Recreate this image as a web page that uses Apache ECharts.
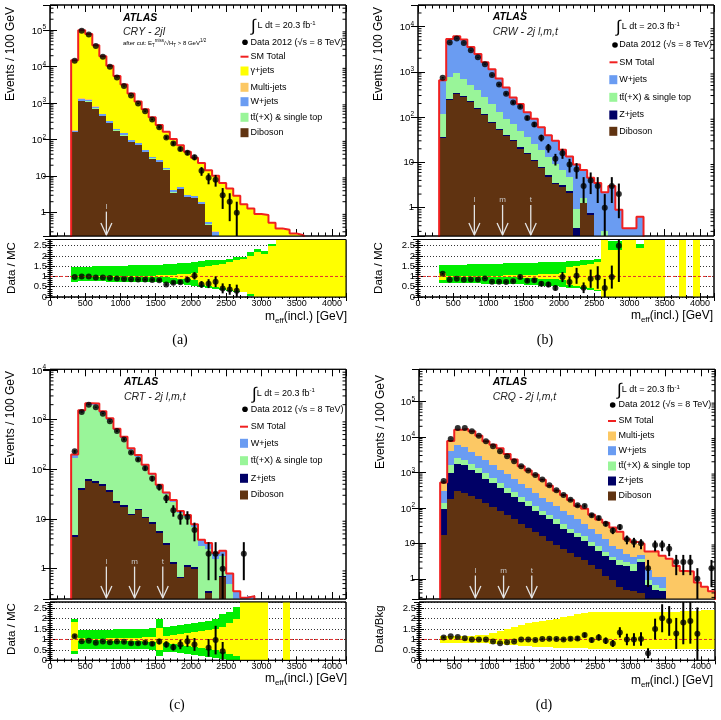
<!DOCTYPE html>
<html>
<head>
<meta charset="utf-8">
<script src="https://cdn.jsdelivr.net/npm/echarts@6/dist/echarts.min.js"></script>
<style>
html,body{margin:0;padding:0;background:#fff;}
#chart{width:721px;height:720px;}
</style>
</head>
<body>
<div id="chart"></div>
<script>
// ================= DATA =================
const EDGES = [300,400,500,600,700,800,900,1000,1100,1200,1300,1400,1500,1600,1700,1800,1900,2000,2100,2200,2300,2400,2500,2600,2700,2800,2900,3000,3100,3200,3300,3400,3500,3600,3700,3800,3900,4000,4100,4200];
const ARROW_X = [800,1200,1600];
const ARROW_LAB = ['l','m','t'];

// ---- (a) CRgamma - 2jl ----
const A_gamma = [14820,98650,77720,37690,18690,10280,5350,3100,1732,1038,628,381,227,148,101,65,43.9,29.1,21,13.9,9.9,6.5,4.6,2.9,1.65,1.25,0.82,0.77,0.48,0.37,0.34,0.27,0.24,0.2,0.15,0.12,0.1,0.08,0.06];
const A_multijet = [5,40,30,15,7,4,2,1.3,0.7,0.4,0.25,0.15,0.1,0.06,0.04,0.03,0.02,0.02,0.01,0.01,0.01,0.01,0.01,0.01,0.05,0.05,0.1,0.1,0.05,0,0,0,0,0,0,0,0,0,0];
const A_wjets = [15,130,125,80,50,32,20,15,10,8,5,3.5,2.8,1.7,0.5,0.5,0.3,0.3,0.2,0.08,0.1,0.05,0,0,0,0,0,0,0,0,0,0,0,0,0,0,0,0,0];
const A_ttbar = [3,30,28,18,11,7,4.5,3.3,2.2,1.8,1.1,0.7,0.6,0.35,0.1,0.1,0.07,0.06,0.04,0.02,0,0,0,0,0,0,0,0,0,0,0,0,0,0,0,0,0,0,0];
const A_diboson = [158,1150,1100,700,440,280,175,130,85,72,46,30,24,15,3.5,4.4,2.7,2.5,1.7,0.46,0.2,0,0,0,0,0,0,0,0,0,0,0,0,0,0,0,0,0,0];
const A_data = [14500,96000,76000,37000,18600,10000,5040,2940,1620,985,605,360,220,115,79,56,44,33,14,9,8,3,2,1,null,null,null,null,null,null,null,null,null,null,null,null,null,null,null];
const A_ratio = [0.98,1.0,1.0,0.95,0.95,0.92,0.9,0.88,0.86,0.85,0.85,0.83,0.82,0.61,0.69,0.72,0.84,1.03,0.61,0.65,0.74,0.42,0.37,0.3,null,null,null,null,null,null,null,null,null,null,null,null,null,null,null];
const A_totLo = [0.75,0.76,0.76,0.76,0.76,0.75,0.75,0.75,0.74,0.74,0.73,0.72,0.72,0.66,0.64,0.62,0.6,0.56,0.48,0.42,0.38,0.32,0.28,0.25,0.22,0.05,0,0,0,0,0,0,0,0,0,0,0,0,0];
const A_totHi = [1.45,1.47,1.48,1.49,1.5,1.51,1.52,1.53,1.54,1.55,1.56,1.57,1.58,1.6,1.62,1.64,1.67,1.72,1.76,1.78,1.8,1.82,1.85,1.97,1.97,2.18,2.34,2.23,2.6,3,3,3,3,3,3,3,3,3,3];
const A_statLo = [0.97,0.98,0.98,0.98,0.98,0.98,0.97,0.97,0.97,0.97,0.96,0.96,0.95,0.95,0.93,0.9,0.88,0.85,0.6,0.55,0.5,0.42,0.32,0.28,0.25,0.15,0,0,0,0,0,0,0,0,0,0,0,0,0];
const A_statHi = [1.03,1.02,1.02,1.02,1.02,1.02,1.03,1.03,1.03,1.03,1.04,1.04,1.05,1.05,1.07,1.1,1.12,1.15,1.45,1.5,1.55,1.6,1.7,1.8,1.85,2.0,2.2,2.1,2.5,3,3,3,3,3,3,3,3,3,3];

// ---- (b) CRW - 2j l,m,t ----
const B_wjets = [535,4550,5170,4520,3020,2080,1360,950,580,360,203,147,91,66,41,27,20.8,12.2,8.7,8,5.2,3.85,3.5,1.9,3.0,0.9,0.35,0.35,0.63,0.1,0.08,0.06,0,0,0.05,0,0.04,0,0];
const B_ttbar = [83,500,610,384,280,229,163,120,75,52,39,27,21,14.5,11,7.8,5.6,3.6,2.5,0.6,0.3,0,0,0.3,0,0,0,0,0,0,0,0,0,0,0,0,0,0,0];
const B_zjets = [2.5,15,18,16,12,9,7,5,3.5,2.5,2,1.4,1,0.8,0.6,0.4,0.3,0.25,0.2,0.2,0.05,0.05,0,0,0,0,0,0,0,0,0,0,0,0,0,0,0,0,0];
const B_diboson = [34,237,320,280,218,152,110,75,51,38,29,20,15,10.7,7.4,4.8,3.3,2.9,2.1,0.15,1.25,0.7,0,0,0,0,0,0,0,0,0,0,0,0,0,0,0,0,0];
const B_data = [740,4450,5450,4370,3000,2100,1480,850,525,330,210,170,96,69,35,21,12,16,9,7,3,4,3,1,3,2,null,null,null,null,null,null,null,null,null,null,null,null,null];
const B_ratio = [1.13,0.84,0.89,0.84,0.85,0.85,0.9,0.74,0.74,0.73,0.77,0.97,0.79,0.81,0.65,0.61,0.44,0.97,0.73,1.03,0.45,0.89,0.95,0.44,0.97,2.5,null,null,null,null,null,null,null,null,null,null,null,null,null];
const B_totLo = [0.68,0.68,0.67,0.67,0.66,0.66,0.65,0.65,0.64,0.63,0.62,0.61,0.6,0.58,0.56,0.54,0.52,0.5,0.45,0.42,0.38,0.35,0.3,0,0,0,0,0,0,0,0,0,0,0,0,0,0,0,0];
const B_totHi = [1.55,1.56,1.57,1.58,1.59,1.6,1.61,1.62,1.63,1.64,1.65,1.66,1.67,1.68,1.69,1.7,1.71,1.72,1.75,1.77,1.8,1.82,1.85,3,2.75,2.75,3,3,2.6,3,3,3,0,0,3,0,3,0,0];
const B_statLo = [0.85,0.97,0.97,0.97,0.97,0.97,0.96,0.96,0.96,0.95,0.95,0.94,0.93,0.92,0.9,0.88,0.86,0.85,0.6,0.55,0.5,0.45,0.35,0,0,0,0,0,0,0,0,0,0,0,0,0,0,0,0];
const B_statHi = [1.15,1.03,1.03,1.03,1.03,1.03,1.04,1.04,1.04,1.05,1.05,1.06,1.07,1.08,1.1,1.12,1.14,1.15,1.45,1.5,1.55,1.6,1.7,3,2.3,2.3,3,3,2.4,3,3,3,0,0,3,0,3,0,0];

// ---- (c) CRT - 2j l,m,t ----
const C_wjets = [25,100,130,120,90,65,40,30,18,13,9,6,4,3,2.2,1.5,1.2,0.9,1.0,0.8,0.5,0.5,0.3,0.15,0.1,0.1,0,0,0,0,0,0,0,0,0,0,0,0,0];
const C_ttbar = [168,1398,1936,1942,1330,967,592,401,235,164,104,67,39,28,20.5,12.3,9.6,5.9,2.8,2.15,1.56,1.1,0.5,0.2,0.16,0.18,0,0,0,0,0,0,0,0,0,0,0,0,0];
const C_zjets = [0.35,3,4.5,4,3.5,2.6,1.6,1.3,0.9,1.1,0.8,0.6,0.4,0.22,0.1,0.05,0.08,0.07,0,0.02,0,0.03,0,0,0,0,0,0,0,0,0,0,0,0,0,0,0,0,0];
const C_diboson = [4.4,39,59,54,46,35,21,17.6,11.8,15,10.3,8.1,5.3,3,1.24,0.64,1.1,1.0,0,0.33,0,0.67,0,0,0,0,0,0,0,0,0,0,0,0,0,0,0,0,0];
const C_data = [230,1420,2000,1780,1320,930,590,400,218,158,105,65,44,26,15,11,11,6,null,2,2,1,null,null,2,null,null,null,null,null,null,null,null,null,null,null,null,null,null];
const C_ratio = [1.16,0.92,0.94,0.84,0.9,0.87,0.9,0.89,0.82,0.82,0.85,0.79,0.9,0.76,0.63,0.76,0.92,0.76,null,0.6,0.97,0.44,null,null,null,null,null,null,null,null,null,null,null,null,null,null,null,null,null];
const C_totLo = [0.3,0.55,0.55,0.55,0.55,0.55,0.54,0.54,0.53,0.53,0.52,0.51,0.2,0.42,0.38,0.34,0.3,0.25,0.2,0.15,0.1,0.05,0,0,0,0,0,0,0,0,0,0,0,0,0,0,0,0,0];
const C_totHi = [1.98,1.45,1.45,1.46,1.46,1.47,1.48,1.49,1.5,1.51,1.52,1.55,2.0,1.6,1.65,1.7,1.75,1.8,1.85,1.9,2.0,2.2,2.3,2.55,3,3,3,3,0,0,3,0,0,0,0,0,0,0,0];
const C_statLo = [0.45,0.95,0.96,0.96,0.96,0.95,0.95,0.94,0.93,0.92,0.9,0.88,0.5,0.85,0.8,0.75,0.7,0.65,0.6,0.55,0.5,0.4,0.3,0.2,0,0,0,0,0,0,0,0,0,0,0,0,0,0,0];
const C_statHi = [1.85,1.05,1.04,1.04,1.04,1.05,1.05,1.06,1.07,1.08,1.1,1.12,1.55,1.15,1.2,1.25,1.3,1.35,1.4,1.45,1.5,1.6,1.8,2.0,3,3,3,3,0,0,3,0,0,0,0,0,0,0,0];

// ---- (d) CRQ - 2j l,m,t ----
const D_multijet = [219,3670,9880,11640,10510,7900,5340,4500,3620,2420,1675,1030,785,603,430,271,193,149,104,65,59,39,29,25,19.4,14.3,8.1,6.85,5,4.15,4.85,3.35,3.6,2.3,1.65,1.6,0.79,0.6,0.45];
const D_wjets = [165,2380,3530,2950,2150,1650,1240,870,695,508,355,266,198,143,112,86,66,47,36,28,18.7,14,9.4,7.2,4.5,3.5,2.0,1.5,1.2,0.8,0.5,0.6,0.1,0,0,0,0,0,0];
const D_ttbar = [43,610,790,720,530,415,320,220,152,102,80,56,43,32,20,14,13,10,6,5.3,4.4,2.4,2.4,1.3,0.8,1.0,0.6,1.0,0.6,0.3,0.15,0.1,0,0,0,0,0,0,0];
const D_zjets = [75,800,1480,1310,994,760,525,383,280,208,152,112,86,61,46,36,26,18,14.8,10.6,8.6,6.2,4.3,3.3,2.4,1.8,1.8,1.2,2.6,0.4,0.3,0.3,0,0,0,0,0,0,0];
const D_diboson = [17,182,300,270,216,175,135,107,83,62,48,36,28,21,15.7,11.9,9,6.9,5.2,4.1,3.3,2.4,1.9,1.24,0.9,0.6,0.5,0.45,0.4,0.25,0.2,0.15,0,0,0,0,0,0,0];
const D_data = [571,8790,17900,17800,14400,10900,7560,5470,3960,2870,2080,1500,1140,842,636,432,313,231,171,119,114,62,52,36,23,29,13,11,10,2,9,9,7,3,3,3,1,null,2];
const D_ratio = [1.1,1.15,1.12,1.06,1.0,1.0,1.0,0.9,0.82,0.87,0.9,1.0,1.0,0.98,1.02,1.03,1.02,1.0,1.03,1.05,1.21,0.97,1.1,0.94,0.81,1.34,1.0,1.0,1.02,0.34,1.5,2.02,1.89,1.29,1.82,1.89,1.27,null,null];
const D_statLo = [0.84,0.84,0.84,0.84,0.83,0.83,0.82,0.8,0.77,0.74,0.72,0.7,0.68,0.66,0.64,0.62,0.61,0.6,0.59,0.58,0.57,0.56,0.55,0.55,0.55,0.55,0.55,0.55,0.55,0.55,0.55,0.55,0.55,0.55,0.55,0.55,0.55,0.55,0.55];
const D_statHi = [1.17,1.17,1.17,1.18,1.19,1.2,1.22,1.3,1.4,1.5,1.6,1.7,1.78,1.85,1.9,1.95,2.0,2.08,2.15,2.2,2.25,2.3,2.32,2.34,2.34,2.33,2.32,2.32,2.3,2.3,2.3,2.3,2.32,2.34,2.36,2.38,2.38,2.4,2.4];

// legend names
const N_GAMMA = 'γ+jets', N_MULTI = 'Multi-jets', N_W = 'W+jets', N_TT = 'tt̄(+X) & single top', N_Z = 'Z+jets', N_DIB = 'Diboson';

// ================= STYLE / LAYOUT =================
const F = "'Liberation Sans', Arial, Helvetica, sans-serif";
const COL = {gamma:'#ffff00', multi:'#fcc864', w:'#6a9cf2', tt:'#99f599', z:'#000066', dib:'#603311',
             total:'#f02020', bandTot:'#00ee00', bandStat:'#ffff00'};

const panels = [
  {left:50, width:296, mainTop:5, mainH:231, ratTop:239.5, ratH:57.5, yMin:0.23, yMax:4.9e5,
   stack:[[A_diboson,COL.dib],[A_ttbar,COL.tt],[A_wjets,COL.w],[A_multijet,COL.multi],[A_gamma,COL.gamma]],
   data:A_data, ratio:A_ratio, tot:[A_totLo,A_totHi], stat:[A_statLo,A_statHi], arrows:[ARROW_X[0]], arrowTop:1.07,
   leg:{atlasX:123, atlasY:18, crY:31.7, crText:'CRΥ - 2jl', cutY:43.5, intX:251, lumiX:257.5, lumiY:25, dotX:245, dataY:42.3, textX:250.5, smX0:240.5, smX1:248.5, smY:56.7, boxX:240.5, boxYs:[71,87.3,101.7,117.3,132.7]},
   names:[N_GAMMA,N_MULTI,N_W,N_TT,N_DIB], colors:[COL.gamma,COL.multi,COL.w,COL.tt,COL.dib],
   yTitle:'Data / MC', evX:11, evY:7, rtX:12, rtY:268, xtX:347, xtY:318, cap:'(a)', capX:180, capY:340},
  {left:418, width:296, mainTop:5, mainH:231, ratTop:239.5, ratH:57.5, yMin:0.237, yMax:3.0e4,
   stack:[[B_diboson,COL.dib],[B_zjets,COL.z],[B_ttbar,COL.tt],[B_wjets,COL.w]],
   data:B_data, ratio:B_ratio, tot:[B_totLo,B_totHi], stat:[B_statLo,B_statHi], arrows:ARROW_X, arrowTop:1.15,
   leg:{atlasX:492.7, atlasY:17.3, crY:32.3, crText:'CRW - 2j l,m,t', intX:616, lumiX:621.7, lumiY:26, dotX:615, dataY:45, textX:619.3, smX0:609.5, smX1:617.5, smY:62.3, boxX:609.3, boxYs:[79.7,97.3,115,131.3]},
   names:[N_W,N_TT,N_Z,N_DIB], colors:[COL.w,COL.tt,COL.z,COL.dib],
   yTitle:'Data / MC', evX:379, evY:7, rtX:379, rtY:268, xtX:713, xtY:317, cap:'(b)', capX:545, capY:340},
  {left:50, width:296, mainTop:369.3, mainH:229.7, ratTop:602, ratH:58.3, yMin:0.245, yMax:1.03e4,
   stack:[[C_diboson,COL.dib],[C_zjets,COL.z],[C_ttbar,COL.tt],[C_wjets,COL.w]],
   data:C_data, ratio:C_ratio, tot:[C_totLo,C_totHi], stat:[C_statLo,C_statHi], arrows:ARROW_X, arrowTop:1.1,
   leg:{atlasX:124, atlasY:382.3, crY:396.7, crText:'CRT - 2j l,m,t', intX:252, lumiX:256.7, lumiY:392.7, dotX:245, dataY:409.3, textX:250.7, smX0:240, smX1:248, smY:426.7, boxX:240, boxYs:[443.3,460.7,478.3,495]},
   names:[N_W,N_TT,N_Z,N_DIB], colors:[COL.w,COL.tt,COL.z,COL.dib],
   yTitle:'Data / MC', evX:11, evY:371, rtX:12, rtY:629, xtX:347, xtY:680, cap:'(c)', capX:177, capY:705},
  {left:419, width:296, mainTop:369.3, mainH:229.7, ratTop:602, ratH:58.3, yMin:0.27, yMax:8.1e5,
   stack:[[D_diboson,COL.dib],[D_zjets,COL.z],[D_ttbar,COL.tt],[D_wjets,COL.w],[D_multijet,COL.multi]],
   data:D_data, ratio:D_ratio, tot:null, stat:[D_statLo,D_statHi], arrows:ARROW_X, arrowTop:1.24,
   leg:{atlasX:492.7, atlasY:382.3, crY:396.7, crText:'CRQ - 2j l,m,t', intX:617, lumiX:621.7, lumiY:389, dotX:612.7, dataY:405, textX:618.5, smX0:608, smX1:616, smY:421, boxX:608, boxYs:[436,450.7,466,481,496]},
   names:[N_MULTI,N_W,N_TT,N_Z,N_DIB], colors:[COL.multi,COL.w,COL.tt,COL.z,COL.dib],
   yTitle:'Data/Bkg', evX:381, evY:375, rtX:380, rtY:629, xtX:713, xtY:682, cap:'(d)', capX:544, capY:705}
];

// ================= HELPERS =================
function rectRender(color, yMin, yMax){
  return function(params, api){
    const x0 = api.value(0), x1 = api.value(1);
    let lo = api.value(2), hi = api.value(3);
    if (!(lo > yMin)) lo = yMin;
    if (hi > yMax) hi = yMax;
    if (!(hi > lo)) return null;
    const p0 = api.coord([x0, hi]), p1 = api.coord([x1, lo]);
    const x = Math.round(p0[0]), y = Math.round(p0[1]);
    const w = Math.round(p1[0]) - x, h = Math.round(p1[1]) - y;
    if (h <= 0 || w <= 0) return null;
    return {type:'rect', shape:{x:x, y:y, width:w, height:h}, style:{fill:color}};
  };
}
function errRender(yMin, yMax){
  return function(params, api){
    const x = api.value(0);
    let lo = api.value(1), hi = api.value(2);
    if (!(lo > yMin)) lo = yMin;
    if (hi > yMax) hi = yMax;
    if (!(hi > lo)) return null;
    const a = api.coord([x, lo]), b = api.coord([x, hi]);
    return {type:'line', shape:{x1:a[0], y1:a[1], x2:b[0], y2:b[1]}, style:{stroke:'#000', lineWidth:2}};
  };
}
function minorTickRender(){
  return function(params, api){
    const v = api.value(0);
    const a = api.coord([0, v]), b = api.coord([4200, v]);
    return {type:'group', children:[
      {type:'line', shape:{x1:a[0], y1:a[1], x2:a[0] + 3.5, y2:a[1]}, style:{stroke:'#000', lineWidth:1}},
      {type:'line', shape:{x1:b[0] - 3.5, y1:b[1], x2:b[0], y2:b[1]}, style:{stroke:'#000', lineWidth:1}}
    ]};
  };
}
function arrowRender(yMin, labels){
  return function(params, api){
    const x = api.value(0), top = api.value(1);
    const p0 = api.coord([x, top]), p1 = api.coord([x, yMin]);
    const c = '#e4e4e4';
    return {type:'group', children:[
      {type:'line', shape:{x1:p0[0], y1:p0[1], x2:p1[0], y2:p1[1]-1}, style:{stroke:c, lineWidth:1.3}},
      {type:'polyline', shape:{points:[[p1[0]-5.5, p1[1]-13],[p1[0], p1[1]-1],[p1[0]+5.5, p1[1]-13]]}, style:{stroke:c, fill:null, lineWidth:1.3}},
      {type:'text', style:{text:labels[params.dataIndex], x:p0[0], y:p0[1]-1, align:'center', textAlign:'center', verticalAlign:'bottom', textVerticalAlign:'bottom', fontSize:8, fontFamily:F, fill:'#c8c8c8'}}
    ]};
  };
}
function xAx(gi, pos, lab, len, mlen){
  return {type:'value', gridIndex:gi, position:pos, min:0, max:4200, interval:500,
    axisLine:{show:false}, splitLine:{show:false},
    axisTick:{show:true, inside:true, length:len, lineStyle:{color:'#000', width:1}},
    minorTick:{show:true, splitNumber:5, length:mlen, lineStyle:{color:'#000', width:1}},
    axisLabel:{show:lab, margin:2, fontSize:9, fontFamily:F, color:'#000',
      formatter:function(v){ return (Math.abs(v % 500) < 1e-6) ? String(v) : ''; }}};
}
function yLog(gi, pos, lab, p){
  return {type:'log', logBase:10, gridIndex:gi, position:pos, min:p.yMin, max:p.yMax, splitNumber:10,
    axisLine:{show:false}, splitLine:{show:false},
    axisTick:{show:true, inside:true, length:7, lineStyle:{color:'#000', width:1}},
    axisLabel:{show:lab, margin:4, fontSize:9.5, fontFamily:F, color:'#000',
      formatter:function(v){
        const e = Math.log10(v), r = Math.round(e);
        if (Math.abs(e - r) > 1e-4) return '';
        if (r === 0) return '{b|1}';
        if (r === 1) return '{b|10}';
        return '{b|10}{s|' + r + '}';
      },
      rich:{b:{fontSize:9.5, fontFamily:F, color:'#000', verticalAlign:'bottom', padding:[0,0,0,0]},
            s:{fontSize:6.5, fontFamily:F, color:'#000', verticalAlign:'bottom', padding:[0,0,5,0]}}}};
}
function yRat(gi, pos, lab){
  return {type:'value', gridIndex:gi, position:pos, min:0, max:2.8, interval:0.5,
    axisLine:{show:false},
    splitLine:{show:lab, lineStyle:{type:[1,2], color:'#333', width:1}},
    axisTick:{show:true, inside:true, length:5, lineStyle:{color:'#000'}},
    minorTick:{show:true, splitNumber:5, length:2.5, lineStyle:{color:'#000'}},
    axisLabel:{show:lab, margin:3, fontSize:9.5, fontFamily:F, color:'#000',
      formatter:function(v){ return v > 2.6 ? '' : String(v); }}};
}
function txt(x, y, text, font, extra){
  return {type:'text', x:x, y:y, z:100, silent:true,
    style:Object.assign({text:text, x:0, y:0, font:font, fill:'#000', align:'left', textAlign:'left', verticalAlign:'middle', textVerticalAlign:'middle'}, extra || {})};
}
function richTxt(x, y, text, rich, extra){
  return {type:'text', x:x, y:y, z:100, silent:true,
    style:Object.assign({text:text, x:0, y:0, rich:rich, fill:'#000', align:'left', textAlign:'left', verticalAlign:'middle', textVerticalAlign:'middle'}, extra || {})};
}

// ================= BUILD =================
const grid = [], xAxis = [], yAxis = [], series = [], graphic = [];
const centers = EDGES.slice(0, -1).map((e, i) => (e + EDGES[i + 1]) / 2);

panels.forEach((p) => {
  const gm = grid.length;
  grid.push({left:p.left, top:p.mainTop, width:p.width, height:p.mainH, show:true, borderColor:'#000', borderWidth:1, backgroundColor:'#fff', containLabel:false, outerBoundsMode:'none'});
  const gr = grid.length;
  grid.push({left:p.left, top:p.ratTop, width:p.width, height:p.ratH, show:true, borderColor:'#000', borderWidth:1, backgroundColor:'#fff', containLabel:false, outerBoundsMode:'none'});
  const xm = xAxis.length;
  xAxis.push(xAx(gm, 'bottom', false, 7, 3.5), xAx(gm, 'top', false, 7, 3.5));
  const xr = xAxis.length;
  xAxis.push(xAx(gr, 'bottom', true, 4, 2), xAx(gr, 'top', false, 4, 2));
  const ym = yAxis.length;
  yAxis.push(yLog(gm, 'left', true, p), yLog(gm, 'right', false, p));
  const yr = yAxis.length;
  yAxis.push(yRat(gr, 'left', true), yRat(gr, 'right', false));

  // stacked MC
  let base = new Array(EDGES.length - 1).fill(0);
  p.stack.forEach(([vals, color]) => {
    const rows = [];
    vals.forEach((v, i) => { if (v > 0) rows.push([EDGES[i], EDGES[i + 1], base[i], base[i] + v]); });
    base = base.map((b, i) => b + vals[i]);
    series.push({type:'custom', xAxisIndex:xm, yAxisIndex:ym, data:rows, encode:{x:[0,1], y:[2,3]},
      renderItem:rectRender(color, p.yMin, p.yMax), clip:true, silent:true, animation:false, z:2});
  });
  // SM total
  const low = p.yMin * 0.3;
  const tl = [[EDGES[0], low]];
  base.forEach((t, i) => { const v = t > 0 ? t : low; tl.push([EDGES[i], v], [EDGES[i + 1], v]); });
  tl.push([EDGES[EDGES.length - 1], low]);
  series.push({type:'line', xAxisIndex:xm, yAxisIndex:ym, data:tl, symbol:'none', showSymbol:false,
    lineStyle:{color:COL.total, width:2}, clip:true, silent:true, animation:false, z:3});
  // log minor ticks (2..9 x 10^k)
  const mt = [];
  for (let k = Math.floor(Math.log10(p.yMin)); k <= Math.ceil(Math.log10(p.yMax)); k++) {
    for (let m = 2; m <= 9; m++) { const v = m * Math.pow(10, k); if (v > p.yMin && v < p.yMax) mt.push([v]); }
  }
  series.push({type:'custom', xAxisIndex:xm, yAxisIndex:ym, data:mt, encode:{y:0},
    renderItem:minorTickRender(), silent:true, animation:false, z:7});
  // arrows
  series.push({type:'custom', xAxisIndex:xm, yAxisIndex:ym, data:p.arrows.map(x => [x, p.arrowTop]), encode:{x:0, y:1},
    renderItem:arrowRender(p.yMin, ARROW_LAB), silent:true, animation:false, z:4});
  // data
  const dpts = [], derr = [];
  p.data.forEach((n, i) => {
    if (n == null) return;
    dpts.push([centers[i], n]);
    const s = Math.sqrt(n);
    derr.push([centers[i], n - s, n + s]);
  });
  series.push({type:'custom', xAxisIndex:xm, yAxisIndex:ym, data:derr, encode:{x:0, y:[1,2]},
    renderItem:errRender(p.yMin, p.yMax), silent:true, animation:false, z:5});
  series.push({type:'scatter', xAxisIndex:xm, yAxisIndex:ym, data:dpts, symbol:'circle', symbolSize:6,
    itemStyle:{color:'#000'}, silent:true, animation:false, z:6});

  // ratio bands
  if (p.tot) {
    const rows = [];
    p.tot[0].forEach((lo, i) => { const hi = p.tot[1][i]; if (hi > lo) rows.push([EDGES[i], EDGES[i + 1], lo, hi]); });
    series.push({type:'custom', xAxisIndex:xr, yAxisIndex:yr, data:rows, encode:{x:[0,1], y:[2,3]},
      renderItem:rectRender(COL.bandTot, 0, 2.8), silent:true, animation:false, z:2});
  }
  {
    const rows = [];
    p.stat[0].forEach((lo, i) => { const hi = p.stat[1][i]; if (hi > lo) rows.push([EDGES[i], EDGES[i + 1], lo, hi]); });
    series.push({type:'custom', xAxisIndex:xr, yAxisIndex:yr, data:rows, encode:{x:[0,1], y:[2,3]},
      renderItem:rectRender(COL.bandStat, 0, 2.8), silent:true, animation:false, z:3});
  }
  // reference line at 1
  series.push({type:'line', xAxisIndex:xr, yAxisIndex:yr, data:[[0,1],[4200,1]], symbol:'none', showSymbol:false,
    lineStyle:{color:'#e03030', width:1, type:[3,2]}, silent:true, animation:false, z:4});
  // ratio points
  const rpts = [], rerr = [];
  p.ratio.forEach((r, i) => {
    if (r == null) return;
    rpts.push([centers[i], r]);
    const e = r / Math.sqrt(p.data[i]);
    rerr.push([centers[i], r - e, r + e]);
  });
  series.push({type:'custom', xAxisIndex:xr, yAxisIndex:yr, data:rerr, encode:{x:0, y:[1,2]},
    renderItem:errRender(0, 2.8), silent:true, animation:false, z:5});
  series.push({type:'scatter', xAxisIndex:xr, yAxisIndex:yr, data:rpts, symbol:'circle', symbolSize:6,
    itemStyle:{color:'#000'}, silent:true, animation:false, z:6});

  // frames on top
  graphic.push({type:'rect', z:90, silent:true, shape:{x:p.left, y:p.mainTop, width:p.width, height:p.mainH}, style:{fill:null, stroke:'#000', lineWidth:1}});
  graphic.push({type:'rect', z:90, silent:true, shape:{x:p.left, y:p.ratTop, width:p.width, height:p.ratH}, style:{fill:null, stroke:'#000', lineWidth:1}});

  // legend & labels
  const L = p.leg;
  graphic.push(txt(L.atlasX, L.atlasY, 'ATLAS', 'italic bold 10.5px ' + F));
  graphic.push(txt(L.atlasX, L.crY, L.crText, 'italic 10.5px ' + F, {fill:'#222'}));
  if (L.cutY) {
    graphic.push(richTxt(L.atlasX, L.cutY, '{n|after cut: E}{b|T}{p|miss}{n|/√H}{b|T}{n| > 8 GeV}{p|1/2}', {
      n:{fontSize:6, fontFamily:F, fill:'#000', color:'#000', verticalAlign:'bottom', padding:[0,0,1.5,0]},
      b:{fontSize:4.5, fontFamily:F, fill:'#000', color:'#000', verticalAlign:'bottom'},
      p:{fontSize:4.5, fontFamily:F, fill:'#000', color:'#000', verticalAlign:'bottom', padding:[0,0,4.5,0]}}));
  }
  graphic.push(txt(L.intX, L.lumiY + 1.5, '∫', '17px ' + F));
  graphic.push(richTxt(L.lumiX, L.lumiY, '{n|L dt = 20.3 fb}{p|-1}', {
    n:{fontSize:9, fontFamily:F, fill:'#000', color:'#000', verticalAlign:'bottom'},
    p:{fontSize:6, fontFamily:F, fill:'#000', color:'#000', verticalAlign:'bottom', padding:[0,0,4,0]}}));
  graphic.push({type:'circle', z:100, silent:true, shape:{cx:L.dotX, cy:L.dataY, r:2.8}, style:{fill:'#000'}});
  graphic.push(txt(L.textX, L.dataY, 'Data 2012 (√s = 8 TeV)', '9px ' + F));
  graphic.push({type:'line', z:100, silent:true, shape:{x1:L.smX0, y1:L.smY, x2:L.smX1, y2:L.smY}, style:{stroke:COL.total, lineWidth:2}});
  graphic.push(txt(L.textX, L.smY, 'SM Total', '9px ' + F));
  p.names.forEach((n, i) => {
    graphic.push({type:'rect', z:100, silent:true, shape:{x:L.boxX, y:L.boxYs[i] - 4.5, width:8, height:9}, style:{fill:p.colors[i]}});
    graphic.push(txt(L.textX, L.boxYs[i], n, '9px ' + F));
  });
  // axis titles
  graphic.push({type:'text', x:p.evX, y:p.evY, rotation:Math.PI / 2, z:100, silent:true,
    style:{text:'Events / 100 GeV', x:0, y:0, font:'12px ' + F, fill:'#000', align:'right', textAlign:'right', verticalAlign:'middle', textVerticalAlign:'middle'}});
  graphic.push({type:'text', x:p.rtX, y:p.rtY, rotation:Math.PI / 2, z:100, silent:true,
    style:{text:p.yTitle, x:0, y:0, font:'11.5px ' + F, fill:'#000', align:'center', textAlign:'center', verticalAlign:'middle', textVerticalAlign:'middle'}});
  graphic.push(richTxt(p.xtX, p.xtY, '{n|m}{b|eff}{n|(incl.) [GeV]}', {
    n:{fontSize:12, fontFamily:F, fill:'#000', color:'#000', verticalAlign:'bottom', padding:[0,0,2,0]},
    b:{fontSize:8, fontFamily:F, fill:'#000', color:'#000', verticalAlign:'bottom'}}, {align:'right', textAlign:'right'}));
  graphic.push(txt(p.capX, p.capY, p.cap, "14px 'Liberation Serif', 'DejaVu Serif', serif", {align:'center', textAlign:'center'}));
});

const chart = echarts.init(document.getElementById('chart'), null, {renderer:'canvas', width:721, height:720});
chart.setOption({
  backgroundColor:'#fff',
  animation:false,
  grid:grid, xAxis:xAxis, yAxis:yAxis, series:series,
  graphic:{elements:graphic}
});
</script>
</body>
</html>
